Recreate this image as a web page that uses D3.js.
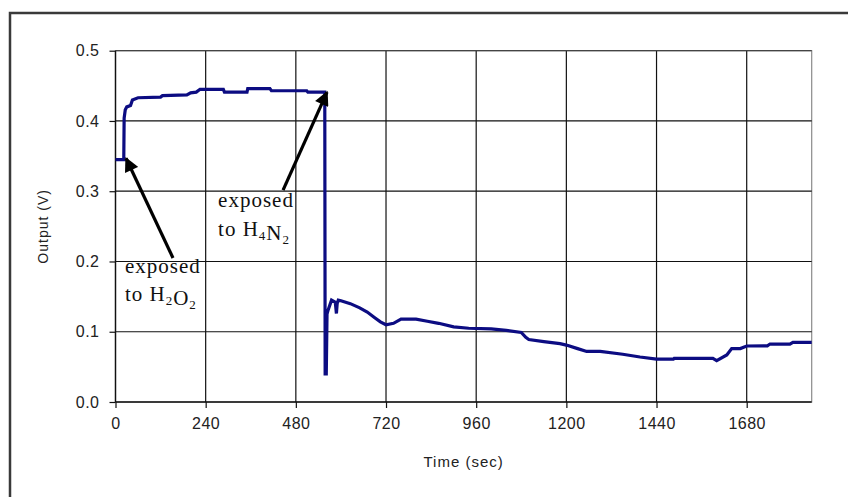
<!DOCTYPE html>
<html>
<head>
<meta charset="utf-8">
<script src="https://cdn.jsdelivr.net/npm/d3@7"></script>
<style>
  html, body { margin: 0; padding: 0; background: #fff; }
  svg { display: block; }
</style>
</head>
<body>
<svg id="chart" width="848" height="497"></svg>
<script>
// ---- data ----
const timeSec = [0, 22, 23, 26, 30, 40, 45, 60, 120, 125, 190, 200, 215, 225, 287, 290, 350, 352, 411, 415, 509, 512, 557, 558, 561, 563, 566, 575, 585, 588, 590, 593, 600, 625, 650, 670, 690, 705, 720, 740, 760, 800, 830, 860, 900, 940, 1000, 1040, 1080, 1092, 1100, 1140, 1183, 1200, 1230, 1254, 1290, 1350, 1396, 1440, 1485, 1487, 1590, 1600, 1627, 1640, 1663, 1680, 1735, 1742, 1795, 1803, 1853];
const outputV = [0.345, 0.345, 0.404, 0.416, 0.420, 0.422, 0.430, 0.433, 0.434, 0.436, 0.437, 0.440, 0.441, 0.445, 0.445, 0.441, 0.441, 0.446, 0.446, 0.443, 0.443, 0.441, 0.441, 0.040, 0.040, 0.125, 0.131, 0.145, 0.142, 0.126, 0.140, 0.145, 0.144, 0.140, 0.134, 0.128, 0.120, 0.114, 0.110, 0.112, 0.118, 0.118, 0.115, 0.112, 0.107, 0.105, 0.104, 0.102, 0.099, 0.092, 0.089, 0.086, 0.083, 0.081, 0.076, 0.072, 0.072, 0.068, 0.064, 0.061, 0.061, 0.062, 0.062, 0.059, 0.067, 0.076, 0.076, 0.0797, 0.080, 0.0825, 0.0825, 0.085, 0.085];
const xTicks = [0, 240, 480, 720, 960, 1200, 1440, 1680];
const yTicks = [0.0, 0.1, 0.2, 0.3, 0.4, 0.5];
const xTitle = "Time (sec)";
const yTitle = "Output (V)";
// annotations in data units: [tipTime, tipValue, tailTime, tailValue]
const arrowH2O2 = [28, 0.347, 153, 0.205];
const arrowH4N2 = [563, 0.441, 446, 0.3016];
const labelH2O2 = [25, 0.1835, 0.1437];   // time, baseline value line1, line2
const labelH4N2 = [273, 0.277, 0.236];

// ---- layout ----
const svg = d3.select("#chart");
const x = d3.scaleLinear().domain([0, 1853]).range([115.5, 811.7]);
const y = d3.scaleLinear().domain([0, 0.5]).range([402, 50.7]);

// outer frame
svg.append("rect").attr("x", 10).attr("y", 13).attr("width", 860).attr("height", 500)
  .attr("fill", "#fff").attr("stroke", "#3a3a3a").attr("stroke-width", 2.5);

const g = svg.append("g");
// plot border (gray)
g.append("rect").attr("x", x(0)).attr("y", y(0.5)).attr("width", x(1853) - x(0)).attr("height", y(0) - y(0.5))
  .attr("fill", "none").attr("stroke", "#8a8a8a").attr("stroke-width", 1.2);

// gridlines
g.selectAll(".hg").data(yTicks.filter(d => d > 0 && d < 0.5)).enter().append("line")
  .attr("x1", x(0)).attr("x2", x(1853)).attr("y1", d => y(d)).attr("y2", d => y(d))
  .attr("stroke", "#111").attr("stroke-width", 1.2);
g.selectAll(".vg").data(xTicks.filter(d => d > 0)).enter().append("line")
  .attr("y1", y(0.5)).attr("y2", y(0)).attr("x1", d => x(d)).attr("x2", d => x(d))
  .attr("stroke", "#111").attr("stroke-width", 1.2);
g.append("line").attr("x1", x(0)).attr("x2", x(1853)).attr("y1", y(0.5)).attr("y2", y(0.5))
  .attr("stroke", "#444").attr("stroke-width", 1.2);

// axes
const tickFont = "'Liberation Sans', Arial, sans-serif";
const xAxis = d3.axisBottom(x).tickValues(xTicks).tickSize(6).tickPadding(10).tickFormat(d3.format("d"));
const gx = svg.append("g").attr("transform", `translate(0,${y(0)})`).call(xAxis);
const yAxis = d3.axisLeft(y).tickValues(yTicks).tickSize(6).tickPadding(10).tickFormat(d3.format(".1f"));
const gy = svg.append("g").attr("transform", `translate(${x(0)},0)`).call(yAxis);
[gx, gy].forEach(a => {
  a.select(".domain").attr("stroke", "#111").attr("stroke-width", 1.4);
  a.selectAll(".tick line").attr("stroke", "#111").attr("stroke-width", 1.2);
  a.selectAll(".tick text").attr("font-family", tickFont).attr("font-size", 16).attr("fill", "#222")
    .attr("letter-spacing", 0.5);
});
gx.select(".domain").attr("d", `M${x(0)},0H${x(1853)}`);
gy.select(".domain").attr("d", `M0,${y(0)}V${y(0.5)}`);

// axis titles
svg.append("text").attr("x", (x(0) + x(1853)) / 2).attr("y", 467).attr("text-anchor", "middle")
  .attr("font-family", tickFont).attr("font-size", 15).attr("letter-spacing", 1).attr("fill", "#222").text(xTitle);
svg.append("text").attr("transform", `translate(48,${(y(0) + y(0.5)) / 2}) rotate(-90)`).attr("text-anchor", "middle")
  .attr("font-family", tickFont).attr("font-size", 14).attr("letter-spacing", 1).attr("fill", "#222").text(yTitle);

// data line
const line = d3.line().x((d, i) => x(timeSec[i])).y((d, i) => y(outputV[i]));
svg.append("path").datum(outputV).attr("d", line).attr("fill", "none")
  .attr("stroke", "#0c0c82").attr("stroke-width", 3.2).attr("stroke-linejoin", "miter");

// arrows
const defs = svg.append("defs");
defs.append("marker").attr("id", "ah").attr("viewBox", "0 0 10 10").attr("refX", 9).attr("refY", 5)
  .attr("markerWidth", 5).attr("markerHeight", 4.5).attr("orient", "auto").attr("markerUnits", "strokeWidth")
  .append("path").attr("d", "M0,0L10,5L0,10z").attr("fill", "#000");
[arrowH2O2, arrowH4N2].forEach(a => {
  svg.append("line").attr("x1", x(a[2])).attr("y1", y(a[3])).attr("x2", x(a[0])).attr("y2", y(a[1]))
    .attr("stroke", "#000").attr("stroke-width", 3.2).attr("marker-end", "url(#ah)");
});

// annotation text
const serif = "'Liberation Serif', 'Times New Roman', serif";
function label(pos, chem) {
  svg.append("text").attr("x", x(pos[0])).attr("y", y(pos[1]))
    .attr("font-family", serif).attr("font-size", 21).attr("letter-spacing", 1).attr("fill", "#111").text("exposed");
  const t2 = svg.append("text").attr("x", x(pos[0])).attr("y", y(pos[2]))
    .attr("font-family", serif).attr("font-size", 21).attr("letter-spacing", 1).attr("fill", "#111");
  t2.append("tspan").text("to ");
  chem.forEach(p => {
    t2.append("tspan").text(p[0]);
    t2.append("tspan").attr("font-size", 13).attr("dy", 4).text(p[1]);
    t2.append("tspan").attr("dy", -4).text("");
  });
}
label(labelH2O2, [["H", "2"], ["O", "2"]]);
label(labelH4N2, [["H", "4"], ["N", "2"]]);
</script>
</body>
</html>
